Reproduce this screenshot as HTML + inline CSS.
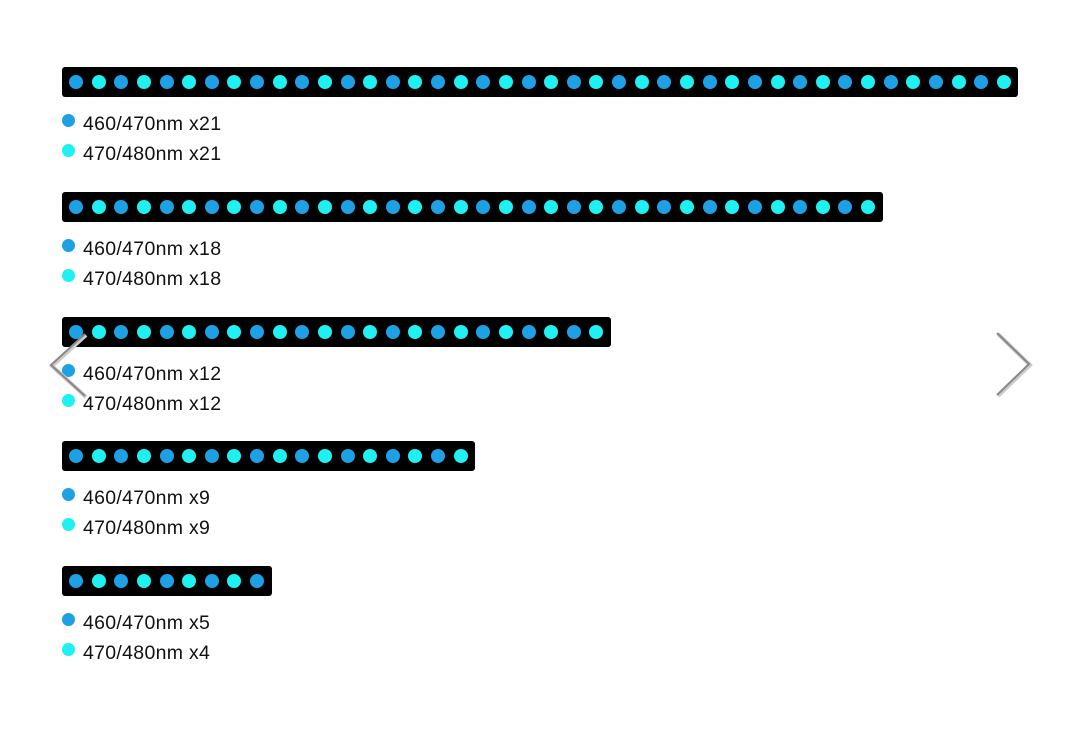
<!DOCTYPE html>
<html><head><style>
body{margin:0;width:1080px;height:733px;background:#fff;position:relative;overflow:hidden;font-family:"Liberation Sans","DejaVu Sans",sans-serif}
.bar{position:absolute;left:62px;height:30px;background:#000;border-radius:3px}
.d{position:absolute;top:8px;width:14px;height:14px;border-radius:50%}
.b{background:#1da0e4}.c{background:#1ff0f2}
.lg{position:absolute;left:62px;font-size:19.5px;color:#111;height:20px;line-height:20px;letter-spacing:0.3px}
.lg span{display:inline-block;width:13px;height:13px;border-radius:50%;margin-right:8px;position:relative;top:-3px}
</style></head><body>
<div id="root"></div>
<script>
const rows=[[67,1018,42,"x21","x21"],[192,883,36,"x18","x18"],[317,611,24,"x12","x12"],[441,475,18,"x9","x9"],[566,272,9,"x5","x4"]];
let h='';
for(const [y,r,n,a,b] of rows){
 h+=`<div class="bar" style="top:${y}px;width:${r-62}px">`;
 for(let i=0;i<n;i++)h+=`<div class="d ${i%2?'c':'b'}" style="left:${7+i*22.63}px"></div>`;
 h+=`</div>`;
 h+=`<div class="lg" style="top:${y+47}px"><span class="b"></span>460/470nm ${a}</div>`;
 h+=`<div class="lg" style="top:${y+77}px"><span class="c"></span>470/480nm ${b}</div>`;
}
document.getElementById('root').innerHTML=h;
</script>
<svg width="1080" height="733" style="position:absolute;left:0;top:0">
<polyline points="86,335 52,366 86,397" fill="none" stroke="#ccc" stroke-width="4"/>
<polyline points="85,334 51,365 85,396" fill="none" stroke="#888" stroke-width="2"/>
<polyline points="998,334 1030,365 998,396" fill="none" stroke="#ccc" stroke-width="4"/>
<polyline points="997,333 1029,364 997,395" fill="none" stroke="#888" stroke-width="2"/>
</svg>
</body></html>
